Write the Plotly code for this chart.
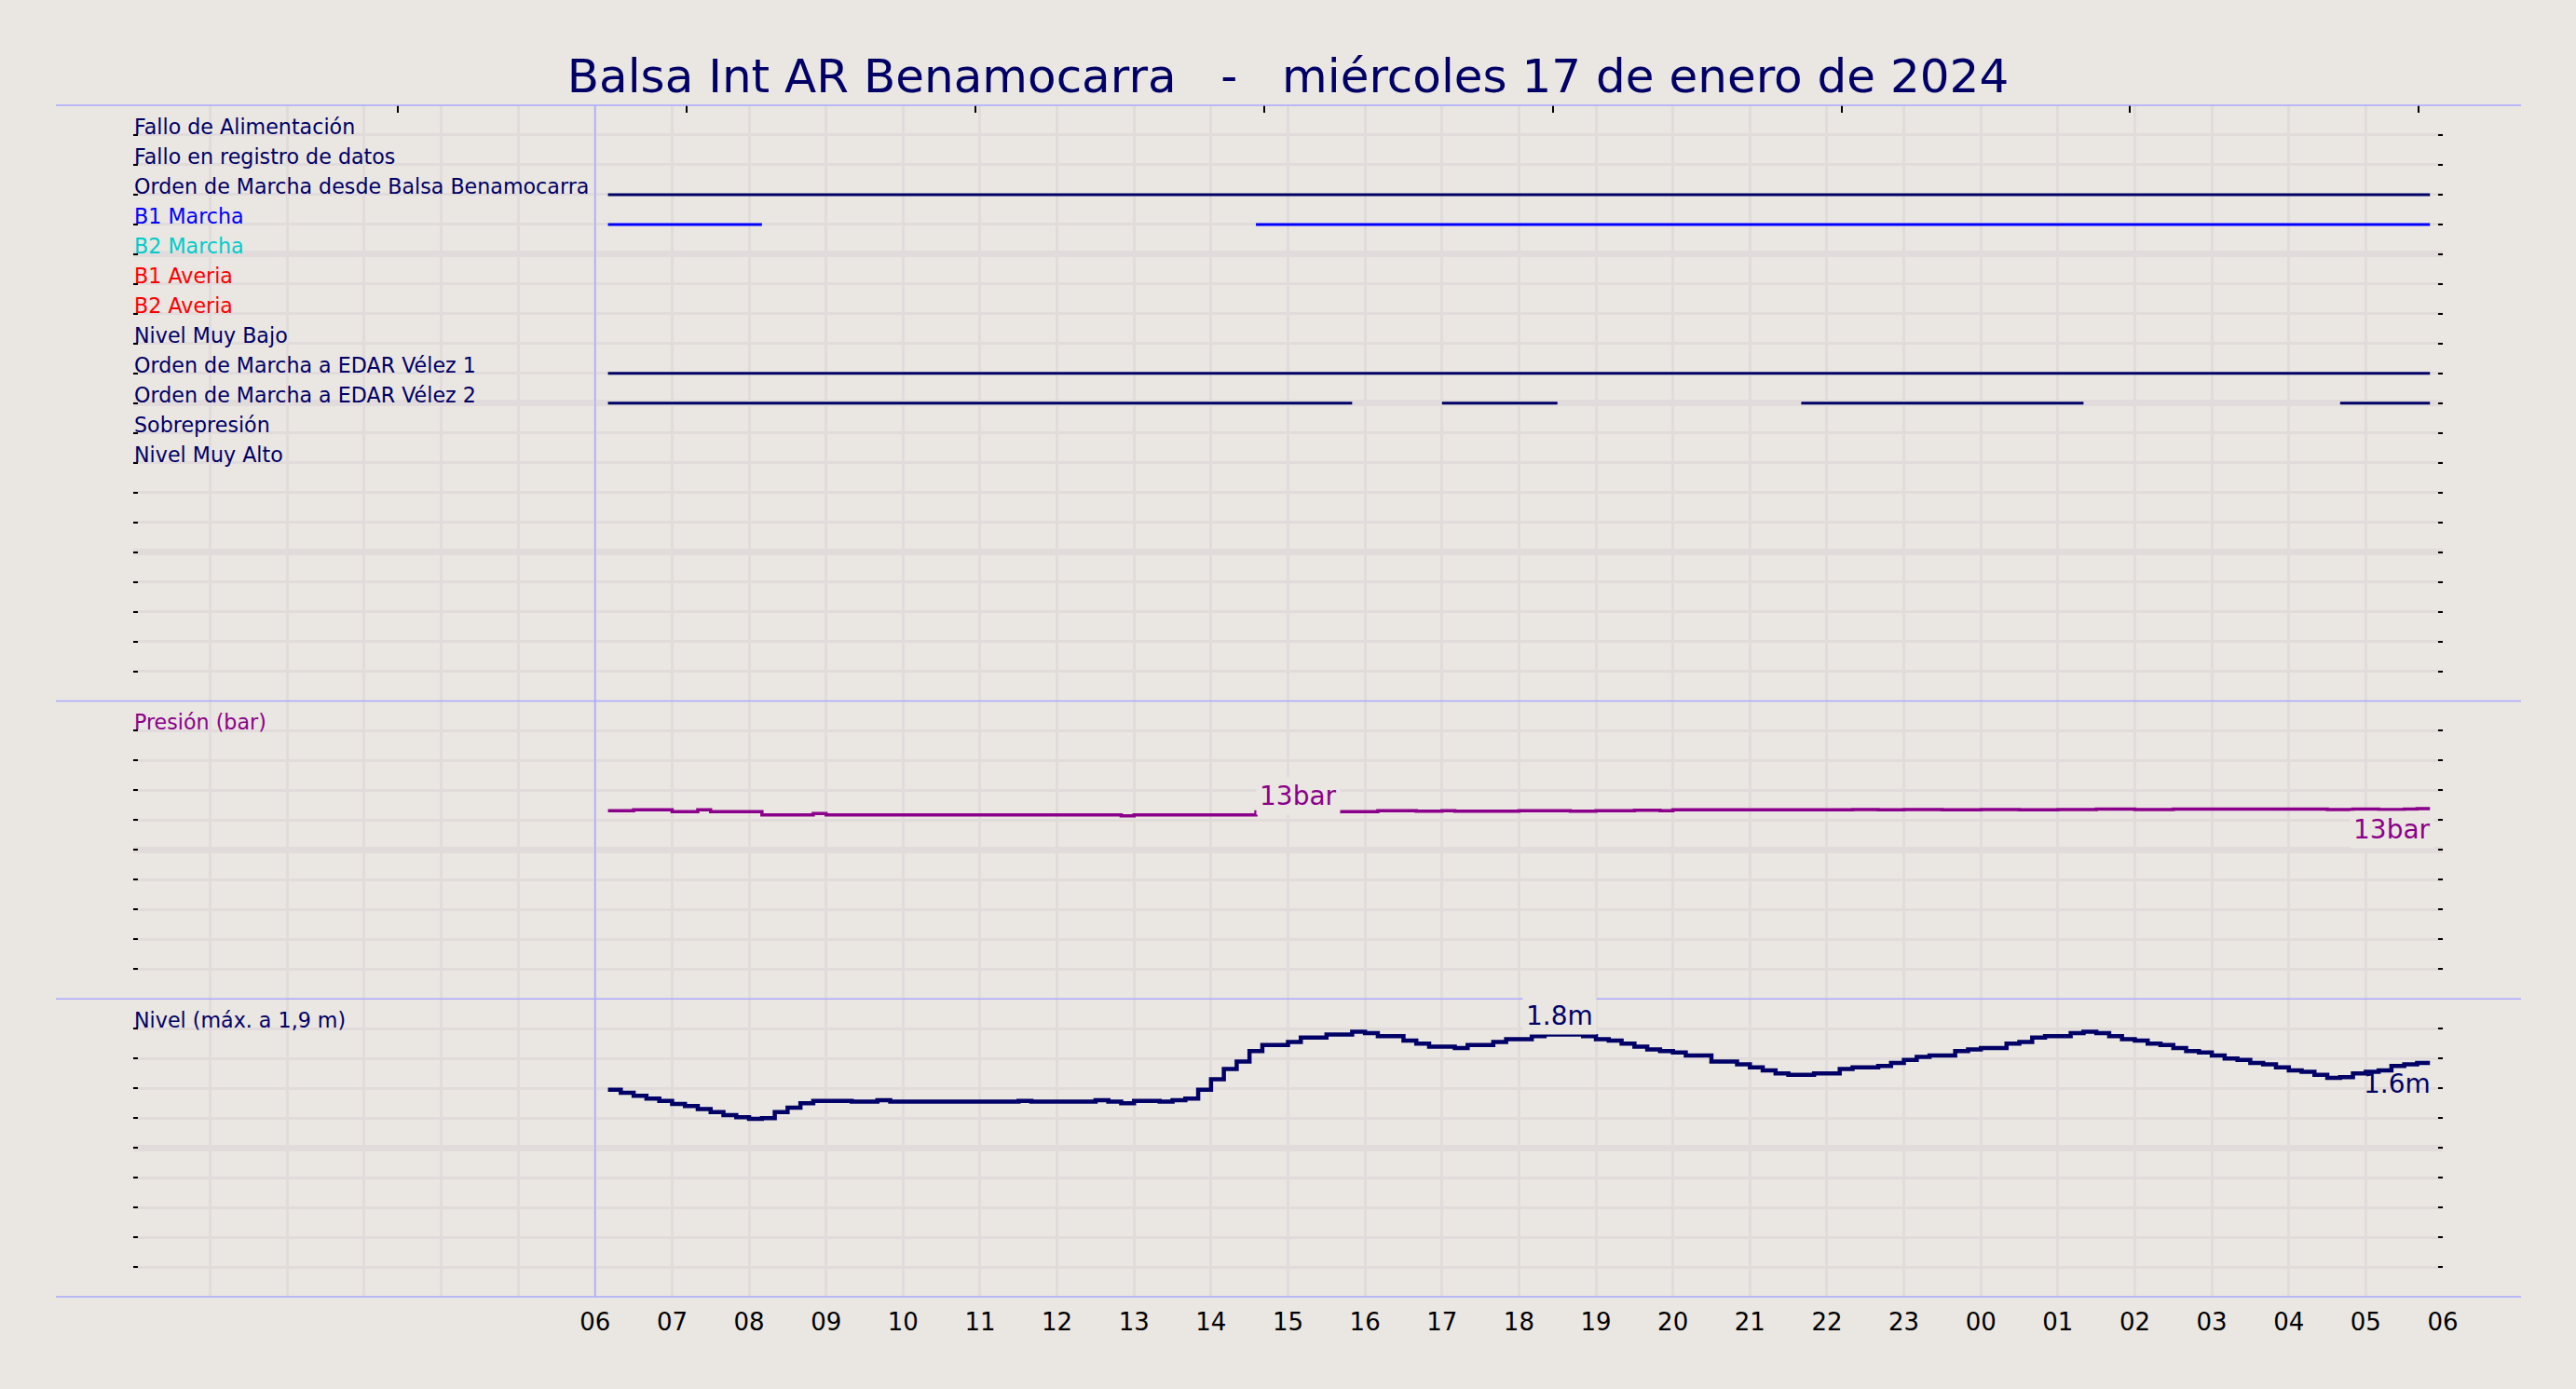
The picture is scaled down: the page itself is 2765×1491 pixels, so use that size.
import pandas as pd
import plotly.graph_objects as go

# ---------------- data ----------------
TITLE_LEFT = "Balsa Int AR Benamocarra"
TITLE_RIGHT = "miércoles 17 de enero de 2024"

# digital signals (top panel), one row per signal
signal_labels = [
    "Fallo de Alimentación",
    "Fallo en registro de datos",
    "Orden de Marcha desde Balsa Benamocarra",
    "B1 Marcha",
    "B2 Marcha",
    "B1 Averia",
    "B2 Averia",
    "Nivel Muy Bajo",
    "Orden de Marcha a EDAR Vélez 1",
    "Orden de Marcha a EDAR Vélez 2",
    "Sobrepresión",
    "Nivel Muy Alto",
]
signal_colors = ["#000066", "#000066", "#000066", "#0000FF", "#00CCCC", "#FF0000",
                 "#FF0000", "#000066", "#000066", "#000066", "#000066", "#000066"]
signal_on = [
    [],
    [],
    [("06:10", "05:50")],
    [("06:10", "08:10"), ("14:35", "05:50")],
    [],
    [],
    [],
    [],
    [("06:10", "05:50")],
    [("06:10", "15:50"), ("17:00", "18:30"), ("21:40", "01:20"), ("04:40", "05:50")],
    [],
    [],
]

# pressure (bar), change points
pressure_times = ["06:10", "06:30", "07:00", "07:20", "07:30", "08:10", "08:50", "09:00",
                  "12:50", "13:00", "14:35", "15:40", "16:10", "16:40", "17:00", "17:10",
                  "18:00", "18:40", "19:00", "19:30", "19:50", "20:00", "22:20", "22:40",
                  "23:00", "23:30", "00:00", "00:30", "01:00", "01:30", "02:00", "02:30",
                  "03:20", "04:30", "04:50", "05:10", "05:30", "05:40", "05:50"]
pressure_vals = [12.63, 12.69, 12.58, 12.69, 12.58, 12.36, 12.44, 12.36,
                 12.29, 12.36, 12.56, 12.58, 12.63, 12.60, 12.63, 12.60,
                 12.63, 12.60, 12.63, 12.66, 12.63, 12.69, 12.72, 12.69,
                 12.72, 12.69, 12.72, 12.69, 12.72, 12.75, 12.72, 12.75,
                 12.75, 12.72, 12.75, 12.72, 12.75, 12.78, 12.78]

# level (m), every 10 minutes from 06:10 to 05:50
level_vals = [
    1.39, 1.37, 1.35, 1.33, 1.315,                 # 06
    1.295, 1.28, 1.26, 1.24, 1.22, 1.205,          # 07
    1.195, 1.20, 1.24, 1.27, 1.30, 1.315,          # 08
    1.315, 1.315, 1.31, 1.31, 1.32, 1.31,          # 09
    1.31, 1.31, 1.31, 1.31, 1.31, 1.31,            # 10
    1.31, 1.31, 1.31, 1.315, 1.31, 1.31,           # 11
    1.31, 1.31, 1.31, 1.32, 1.31, 1.30,            # 12
    1.315, 1.315, 1.31, 1.32, 1.33, 1.39,          # 13
    1.46, 1.53, 1.58, 1.65, 1.69, 1.69,            # 14
    1.71, 1.74, 1.74, 1.76, 1.76, 1.78,            # 15
    1.77, 1.75, 1.75, 1.72, 1.70, 1.68,            # 16
    1.68, 1.67, 1.69, 1.69, 1.71, 1.73,            # 17
    1.73, 1.75, 1.76, 1.76, 1.76, 1.75,            # 18
    1.73, 1.72, 1.70, 1.68, 1.66, 1.65,            # 19
    1.64, 1.62, 1.62, 1.58, 1.58, 1.56,            # 20
    1.54, 1.52, 1.50, 1.49, 1.49, 1.50,            # 21
    1.50, 1.53, 1.54, 1.54, 1.55, 1.57,            # 22
    1.59, 1.61, 1.62, 1.62, 1.65, 1.66,            # 23
    1.67, 1.67, 1.70, 1.71, 1.74, 1.75,            # 00
    1.75, 1.77, 1.78, 1.77, 1.75, 1.73,            # 01
    1.72, 1.70, 1.69, 1.67, 1.65, 1.64,            # 02
    1.62, 1.60, 1.59, 1.57, 1.56, 1.54,            # 03
    1.52, 1.51, 1.49, 1.47, 1.475, 1.50,           # 04
    1.51, 1.52, 1.55, 1.56, 1.57, 1.57,            # 05
]

# value labels: times at which they are placed
pressure_label_times = ["14:35", "05:50"]
level_label_times = ["18:30", "05:50"]

hour_tick_text = ["", "", "", "", "", "",
                  "06", "07", "08", "09", "10", "11", "12", "13", "14", "15", "16", "17",
                  "18", "19", "20", "21", "22", "23", "00", "01", "02", "03", "04", "05", "06"]

# ---------------- helpers ----------------
def t(hhmm):
    h, m = int(hhmm[:2]), int(hhmm[3:])
    day = 18 if h < 6 else 17
    return f"2024-01-{day} {h:02d}:{m:02d}"

X0, X1 = "2024-01-17 00:00", "2024-01-18 06:00"
hour_ticks = list(pd.date_range(X0, X1, freq="h"))
level_times = list(pd.date_range("2024-01-17 06:10", "2024-01-18 05:50", freq="10min"))

BG = "#EAE6E1"
GRID = "#E1DCDB"
NAVY = "#000066"
PURPLE = "#8B008B"
SEP = "#AAAAFF"
FONT = "DejaVu Sans"

fig = go.Figure()

# top panel signal lines
for i, (lab, col, ivs) in enumerate(zip(signal_labels, signal_colors, signal_on)):
    k = i + 1
    xs, ys = [], []
    for a, b in ivs:
        xs += [t(a), t(b), None]
        ys += [k, k, None]
    if xs:
        fig.add_trace(go.Scatter(x=xs, y=ys, mode="lines", line=dict(color=col, width=3),
                                 xaxis="x", yaxis="y", showlegend=False, hoverinfo="skip"))

# pressure
fig.add_trace(go.Scatter(x=[t(s) for s in pressure_times], y=pressure_vals, mode="lines",
                         line=dict(color=PURPLE, width=3.5, shape="hv"),
                         xaxis="x2", yaxis="y2", showlegend=False, hoverinfo="skip"))
# level
fig.add_trace(go.Scatter(x=level_times, y=level_vals, mode="lines",
                         line=dict(color=NAVY, width=4.5, shape="hv"),
                         xaxis="x3", yaxis="y3", showlegend=False, hoverinfo="skip"))
# empty trace so that the top tick axis is drawn
fig.add_trace(go.Scatter(x=[None], y=[None], mode="lines", xaxis="x4", yaxis="y",
                         showlegend=False, hoverinfo="skip"))

annotations = []
for i, (lab, col) in enumerate(zip(signal_labels, signal_colors)):
    annotations.append(dict(text=lab, xref="paper", x=0, yref="y", y=i + 1,
                            xanchor="left", yanchor="bottom", showarrow=False, borderpad=0,
                            yshift=-5, font=dict(family=FONT, size=22.2, color=col)))
annotations.append(dict(text="Presión (bar)", xref="paper", x=0, yref="y2", y=18,
                        xanchor="left", yanchor="bottom", showarrow=False, borderpad=0,
                        yshift=-5, font=dict(family=FONT, size=22.2, color=PURPLE)))
annotations.append(dict(text="Nivel (máx. a 1,9 m)", xref="paper", x=0, yref="y3", y=1.8,
                        xanchor="left", yanchor="bottom", showarrow=False, borderpad=0,
                        yshift=-5, font=dict(family=FONT, size=22.2, color=NAVY)))

p_lookup = dict(zip(pressure_times, pressure_vals))
lvl_lookup = {ts.strftime("%H:%M"): v for ts, v in zip(level_times, level_vals)}

pa, pb = pressure_label_times
annotations.append(dict(text=f"{round(p_lookup[pa])}bar", x=t(pa), y=p_lookup[pa], xref="x2", yref="y2",
                        xanchor="left", yanchor="bottom", showarrow=False, bgcolor=BG, borderpad=3,
                        yshift=-4, font=dict(family=FONT, size=28, color=PURPLE)))
annotations.append(dict(text=f"{round(p_lookup[pb])}bar", x=t(pb), y=p_lookup[pb], xref="x2", yref="y2",
                        xanchor="right", yanchor="top", showarrow=False, bgcolor=BG, borderpad=3,
                        xshift=5, yshift=-2, font=dict(family=FONT, size=28, color=PURPLE)))
la, lb = level_label_times
annotations.append(dict(text=f"{lvl_lookup[la]:.1f}m", x=t(la), y=lvl_lookup[la], xref="x3", yref="y3",
                        xanchor="center", yanchor="bottom", showarrow=False, bgcolor=BG, borderpad=3,
                        xshift=2, font=dict(family=FONT, size=28, color=NAVY)))
annotations.append(dict(text=f"{lvl_lookup[lb]:.1f}m", x=t(lb), y=lvl_lookup[lb], xref="x3", yref="y3",
                        xanchor="right", yanchor="top", showarrow=False, borderpad=3,
                        xshift=5, yshift=-2, font=dict(family=FONT, size=28, color=NAVY)))

# separators
W_PLOT = 2765 - 143 - 143
shapes = []
for yy in [0, 0.25, 0.5, 1]:
    shapes.append(dict(type="line", xref="paper", yref="paper", x0=-83 / W_PLOT, x1=1 + 84 / W_PLOT,
                       y0=yy, y1=yy, line=dict(color=SEP, width=1.5), layer="above"))
shapes.append(dict(type="line", xref="x", yref="paper", x0="2024-01-17 06:00", x1="2024-01-17 06:00",
                   y0=0, y1=1, line=dict(color=SEP, width=1.5), layer="above"))

def xax(**kw):
    d = dict(range=[X0, X1], type="date", showgrid=True, gridcolor=GRID, gridwidth=3,
             tickmode="array", tickvals=hour_ticks, ticktext=hour_tick_text,
             zeroline=False, showline=False, ticks="", showticklabels=False, domain=[0, 1])
    d.update(kw)
    return d

def yax(domain, rng, major, minor_vals):
    return dict(domain=domain, range=rng, tickmode="array", tickvals=major,
                showgrid=True, gridcolor=GRID, gridwidth=7, showticklabels=False,
                ticks="inside", ticklen=5, tickwidth=1.5, tickcolor="black", mirror="ticks",
                zeroline=False, showline=False,
                minor=dict(tickmode="array", tickvals=minor_vals, ticks="inside", ticklen=5,
                           tickwidth=1.5, tickcolor="black", showgrid=True,
                           gridcolor=GRID, gridwidth=3))

fig.update_layout(
    width=2765, height=1491,
    paper_bgcolor=BG, plot_bgcolor=BG,
    margin=dict(l=143, r=143, t=113, b=99),
    font=dict(family=FONT, color="black"),
    title=dict(text=TITLE_LEFT + "\u00a0\u00a0\u00a0-\u00a0\u00a0\u00a0" + TITLE_RIGHT,
               x=0.5, xanchor="center", y=1 - 81 / 1491, yanchor="middle",
               font=dict(family=FONT, size=50, color=NAVY)),
    xaxis=xax(anchor="y"),
    xaxis2=xax(anchor="y2"),
    xaxis3=xax(anchor="y3", showticklabels=True, tickfont=dict(family=FONT, size=26, color="black"),
               ticklabelstandoff=9),
    xaxis4=dict(overlaying="x", anchor="y", side="top", range=[0, 8],
                tickmode="array", tickvals=[0.917 + k for k in range(8)],
                ticks="inside", ticklen=8, tickwidth=1.5, tickcolor="black",
                showticklabels=False, showgrid=False, zeroline=False, showline=False),
    yaxis=yax([0.5, 1], [20, 0], [5, 10, 15], list(range(21))),
    yaxis2=yax([0.25, 0.5], [0, 20], [10], list(range(0, 21, 2))),
    yaxis3=yax([0, 0.25], [0, 2], [1.0], [i / 5 for i in range(11)]),
    annotations=annotations,
    shapes=shapes,
    showlegend=False,
)

fig.write_html("out.html", config={"displayModeBar": False},
               post_script="document.body.style.margin='0';document.body.style.overflow='hidden';")
